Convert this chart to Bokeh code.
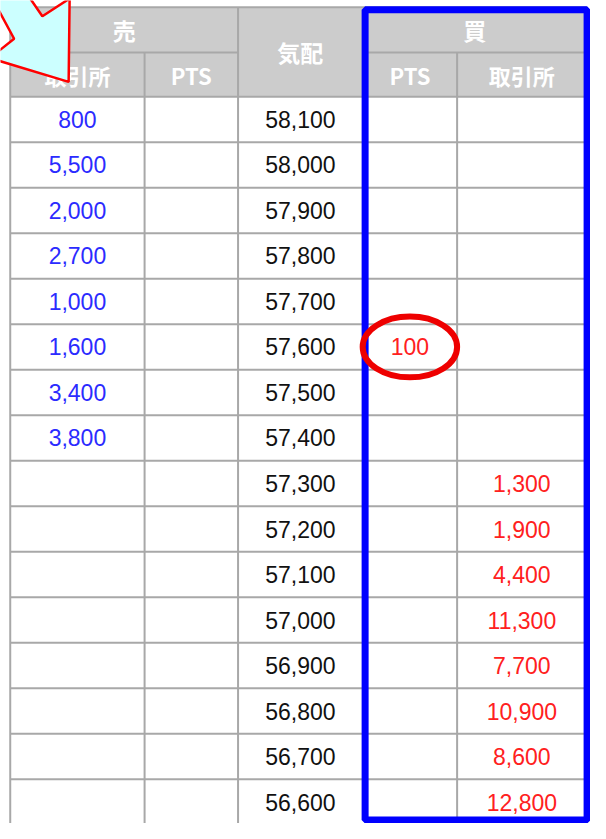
from bokeh.plotting import figure
from bokeh.models import Range1d, ColumnDataSource
from bokeh.core.properties import value
from bokeh.embed import file_html
from bokeh.resources import INLINE

# ---- data (order book) ----
prices = [58100, 58000, 57900, 57800, 57700, 57600, 57500, 57400,
          57300, 57200, 57100, 57000, 56900, 56800, 56700, 56600]
sell_exchange = [800, 5500, 2000, 2700, 1000, 1600, 3400, 3800,
                 None, None, None, None, None, None, None, None]
sell_pts = [None] * 16
buy_pts = [None, None, None, None, None, 100, None, None,
           None, None, None, None, None, None, None, None]
buy_exchange = [None, None, None, None, None, None, None, None,
                1300, 1900, 4400, 11300, 7700, 10900, 8600, 12800]
header_top_labels = ["売", "気配", "買"]
header_sub_labels = ["取引所", "PTS", "PTS", "取引所"]

# ---- layout (reference pixel space 606 x 839) ----
W, H = 606, 839
col_edges = [10, 148, 244, 372, 469, 602]
h_top, h_mid, h_bot = 7, 53, 98
row_h = 46.4
n = len(prices)

p = figure(width=590, height=823, x_range=Range1d(0, W), y_range=Range1d(H, 0),
           output_backend="svg", toolbar_location=None, min_border=0,
           outline_line_color=None, background_fill_color="white")
p.axis.visible = False
p.grid.visible = False

def row_y(i):
    return h_bot + row_h * (i + 0.5)

# header background
p.quad(left=[col_edges[0]], right=[col_edges[-1]], top=[h_top], bottom=[h_bot],
       fill_color="#cccccc", line_color=None)

# grid lines
x0s, y0s, x1s, y1s = [], [], [], []
for k in range(n + 1):
    y = h_bot + row_h * k
    x0s.append(col_edges[0]); x1s.append(col_edges[-1]); y0s.append(y); y1s.append(y)
x0s.append(col_edges[0]); x1s.append(col_edges[-1]); y0s.append(h_top); y1s.append(h_top)
for a, b in [(col_edges[0], col_edges[2]), (col_edges[3], col_edges[5])]:
    x0s.append(a); x1s.append(b); y0s.append(h_mid); y1s.append(h_mid)
for xe, ys in [(col_edges[0], h_top), (col_edges[1], h_mid), (col_edges[2], h_top),
               (col_edges[4], h_mid)]:
    x0s.append(xe); x1s.append(xe); y0s.append(ys); y1s.append(H + 5)
p.segment(x0=x0s, y0=y0s, x1=x1s, y1=y1s, line_color="#a8a8a8", line_width=2)

# header texts
cx = [(col_edges[i] + col_edges[i + 1]) / 2 for i in range(5)]
p.text(x=[(col_edges[0] + col_edges[2]) / 2, cx[2], (col_edges[3] + col_edges[5]) / 2],
       y=[(h_top + h_mid) / 2, (h_top + h_bot) / 2, (h_top + h_mid) / 2],
       text=header_top_labels, text_align="center", text_baseline="middle",
       text_font=value("Noto Sans CJK JP"), text_font_style="bold",
       text_font_size="23px", text_color="white")
p.text(x=[cx[0], cx[1], cx[3], cx[4]], y=[(h_mid + h_bot) / 2] * 4,
       text=header_sub_labels, text_align="center", text_baseline="middle",
       text_font=value("Noto Sans CJK JP"), text_font_style="bold",
       text_font_size="22px", text_color="white")

def fmt(v):
    return "" if v is None else f"{v:,}"

def col_text(values, col, color):
    src = ColumnDataSource(dict(x=[cx[col]] * n, y=[row_y(i) for i in range(n)],
                                t=[fmt(v) for v in values]))
    p.text(x="x", y="y", text="t", source=src, text_align="center",
           text_baseline="middle", text_font=value("Liberation Sans"),
           text_font_size="23px", text_color=color)

col_text(sell_exchange, 0, "#2b2bff")
col_text(sell_pts, 1, "#2b2bff")
col_text(prices, 2, "#111111")
col_text(buy_pts, 3, "#ff2020")
col_text(buy_exchange, 4, "#ff2020")

# blue highlight frame around the buy side
p.quad(left=[374.5], right=[602.5], top=[9.5], bottom=[835.5],
       fill_color=None, line_color="#0000ff", line_width=7)

# red ellipse around the PTS order
p.ellipse(x=[cx[3]], y=[row_y(5)], width=[97], height=[62],
          fill_color=None, line_color="#ee0000", line_width=6)

# pointing arrow (top-left)
ax = [70, 71, 43, 18, -10, 14, -11]
ay = [83, -2, 16, -20, -5, 39, 58.7]
p.patch(x=ax, y=ay, fill_color="#ccffff", line_color="#ff0000", line_width=2.5)

open("out.html", "w").write(file_html(p, INLINE))
